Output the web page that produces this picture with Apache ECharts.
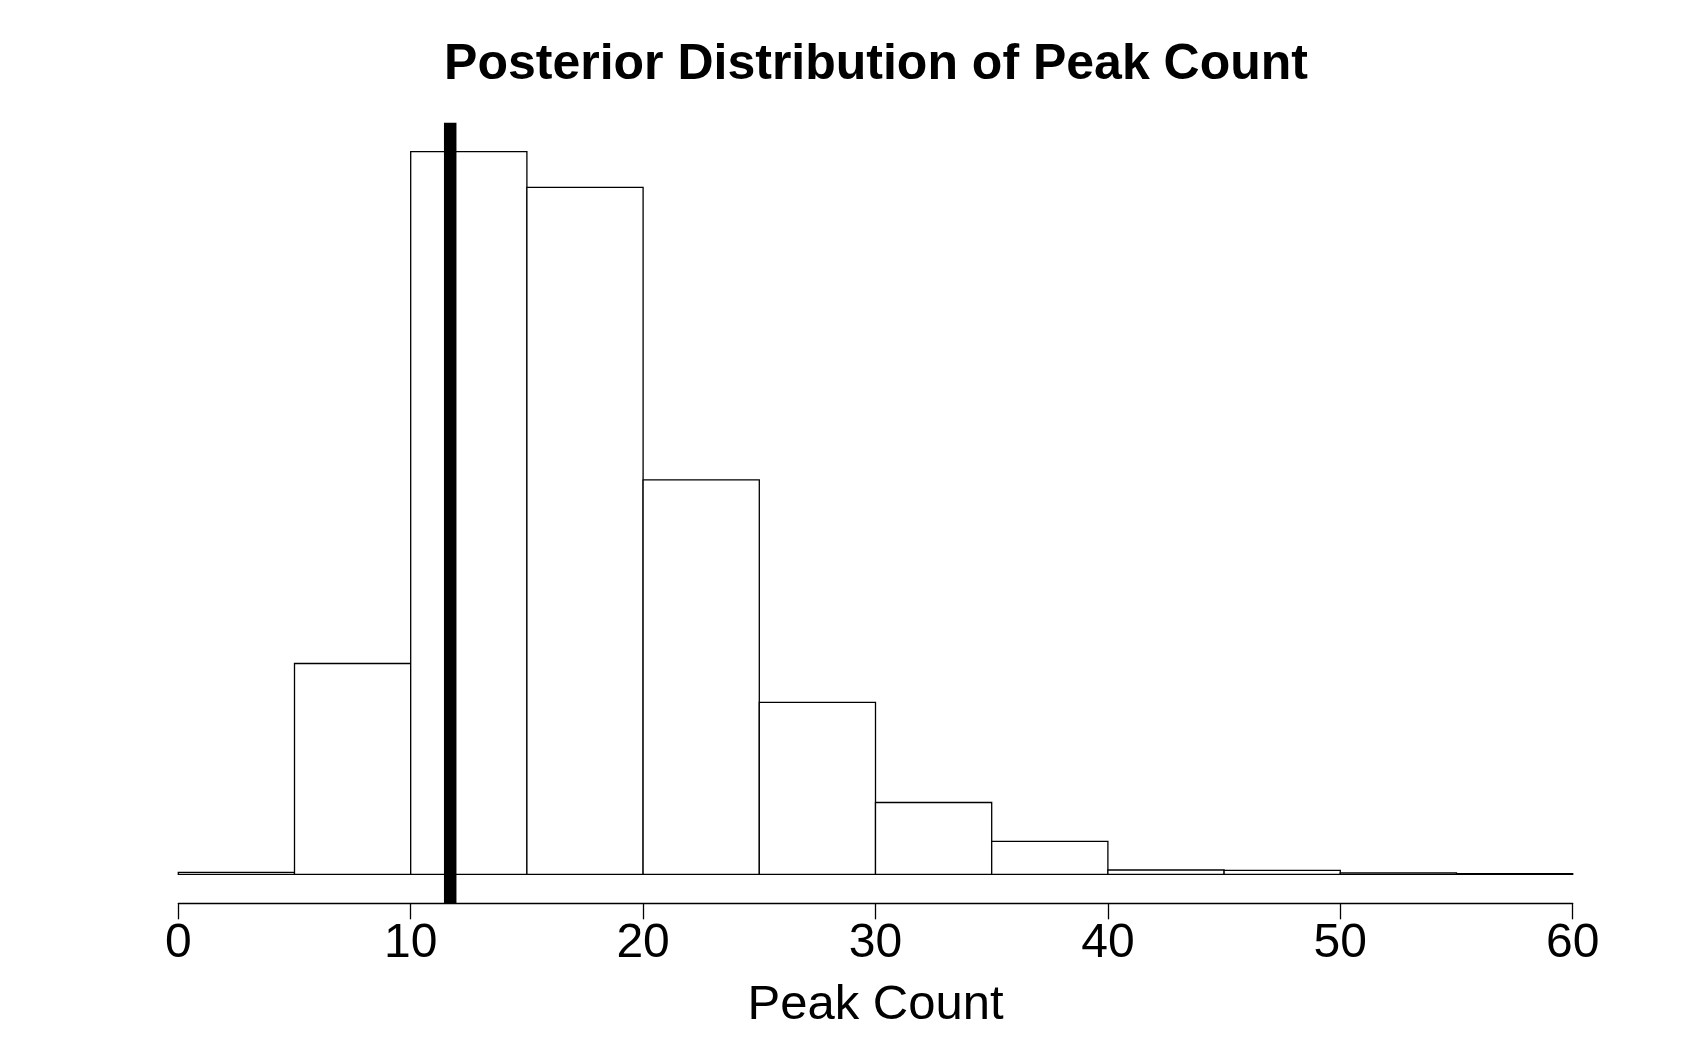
<!DOCTYPE html>
<html>
<head>
<meta charset="utf-8">
<script src="https://cdn.jsdelivr.net/npm/echarts@6/dist/echarts.min.js"></script>
<style>
html,body{margin:0;padding:0;background:#fff;}
#chart{width:1692px;height:1058px;}
</style>
</head>
<body>
<div id="chart"></div>
<script>
// Histogram bins (Peak Count) and counts
const binStarts = [0, 5, 10, 15, 20, 25, 30, 35, 40, 45, 50, 55];
const binWidth = 5;
const counts = [9, 915, 3136, 2981, 1712, 746, 312, 143, 19, 17, 7, 3];
const xTicks = [0, 10, 20, 30, 40, 50, 60];
const observedPeak = 11.7;
const titleText = 'Posterior Distribution of Peak Count';
const xLabel = 'Peak Count';

const maxCount = Math.max.apply(null, counts);
const yMin = -0.04 * maxCount;
const yMax = 1.04 * maxCount;

const histData = binStarts.map((s, i) => [s, s + binWidth, counts[i]]);

const chart = echarts.init(document.getElementById('chart'), null, {renderer: 'canvas'});
const FONT = '"Liberation Sans", Arial, Helvetica, sans-serif';

chart.setOption({
  animation: false,
  backgroundColor: '#ffffff',
  title: {
    text: titleText,
    left: 871,
    top: 35,
    textAlign: 'center',
    textStyle: {fontFamily: FONT, fontWeight: 'bold', fontSize: 50, color: '#000'}
  },
  grid: {left: 178.3, right: 119.3, top: 122.7, bottom: 154.7, containLabel: false},
  xAxis: {
    type: 'value',
    min: 0, max: 60, interval: 10,
    position: 'bottom',
    name: xLabel,
    nameLocation: 'middle',
    nameGap: 78,
    nameTextStyle: {fontFamily: FONT, fontSize: 49, color: '#000'},
    axisLine: {show: true, onZero: false, lineStyle: {color: '#000', width: 1.3}},
    axisTick: {show: true, length: 16, lineStyle: {color: '#000', width: 1.3}},
    axisLabel: {fontFamily: FONT, fontSize: 48, color: '#000', margin: 16,
      formatter: v => xTicks.indexOf(v) >= 0 ? String(v) : ''},
    splitLine: {show: false}
  },
  yAxis: {
    type: 'value',
    min: yMin, max: yMax,
    show: false,
    splitLine: {show: false}
  },
  series: [
    {
      type: 'custom',
      clip: false,
      data: histData,
      renderItem: function (params, api) {
        const p0 = api.coord([api.value(0), 0]);
        const p1 = api.coord([api.value(1), api.value(2)]);
        return {
          type: 'rect',
          shape: {x: p0[0], y: p1[1], width: p1[0] - p0[0], height: p0[1] - p1[1]},
          style: {fill: '#ffffff', stroke: '#000', lineWidth: 1.3}
        };
      },
      encode: {x: [0, 1], y: 2},
      z: 2
    },
    {
      type: 'line',
      data: [[observedPeak, yMin], [observedPeak, yMax]],
      showSymbol: false,
      symbol: 'none',
      lineStyle: {color: '#000', width: 12.5, cap: 'butt'},
      z: 3
    }
  ]
});
</script>
</body>
</html>
